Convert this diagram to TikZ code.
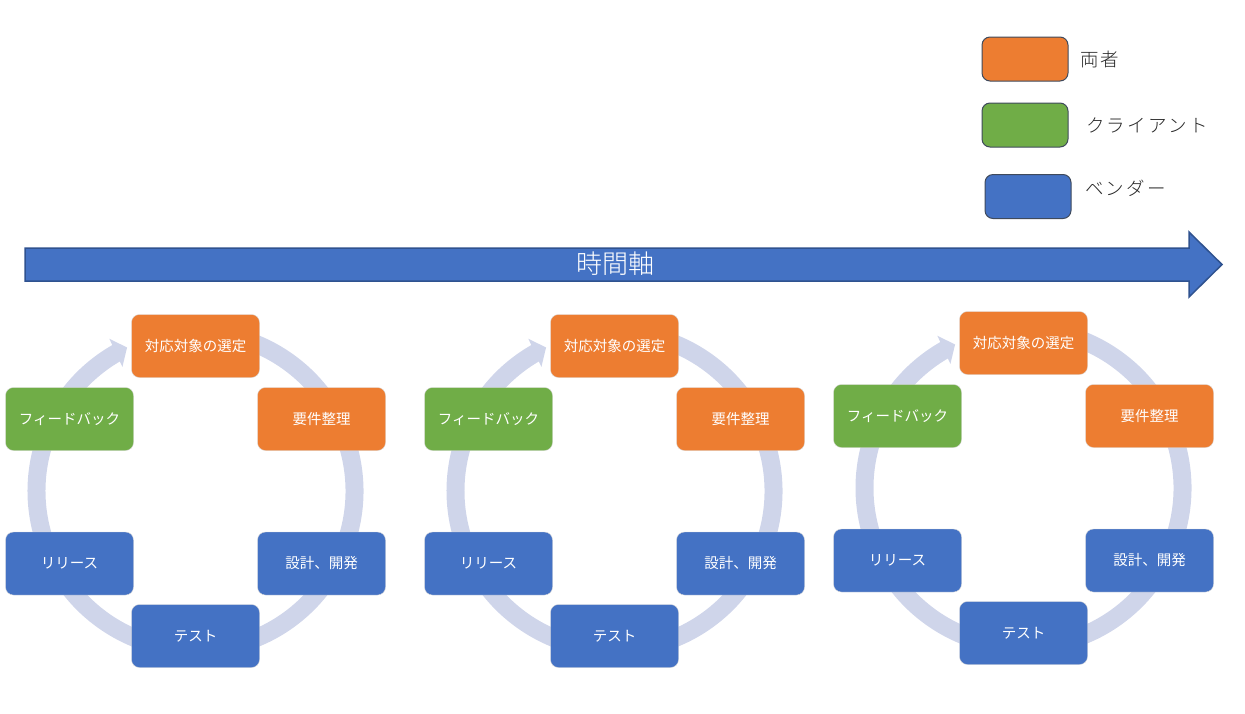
\documentclass[tikz,border=0pt]{standalone}
\usepackage{fontspec}
\setmainfont{Noto Sans CJK JP}
\newfontfamily\legfont{Noto Sans CJK JP Light}[LetterSpace=12]
\newfontfamily\axisfont{Noto Sans CJK JP Light}
\definecolor{orng}{HTML}{ED7D31}
\definecolor{grn}{HTML}{70AD47}
\definecolor{blu}{HTML}{4472C4}
\definecolor{ringc}{HTML}{CFD5EA}
\definecolor{arrowedge}{HTML}{2F528F}
\definecolor{legedge}{HTML}{3F4A5C}
\definecolor{legtext}{HTML}{262626}
\tikzset{
  stage/.style={rounded corners=8pt, minimum width=128pt, minimum height=63pt,
    inner sep=0pt, text=white, draw=white!85!black, line width=0.4pt,
    font=\fontsize{14.5pt}{17pt}\selectfont},
  legbox/.style={rounded corners=8pt, minimum width=86pt, minimum height=44pt,
    inner sep=0pt, draw=legedge, line width=1pt},
  legtxt/.style={anchor=west, text=legtext, inner sep=0pt,
    font=\legfont\fontsize{18.5pt}{22pt}\selectfont},
  ringline/.style={draw=ringc, line width=18pt},
}
\newcommand\drawcycle[3]{%
  \begin{scope}[shift={(#1,#2)}]
    \draw[ringline] (-100:159) arc[start angle=-100, end angle=241, radius=159];
    \fill[ringc] (239.5:144) -- (244.5:159) -- (240.5:175) -- cycle;
    \node[stage, fill=orng] (#3top) at (0,-145) {対応対象の選定};
    \node[stage, fill=orng] (#3req) at (126,-72) {要件整理};
    \node[stage, fill=blu]  (#3dev) at (126,72.5) {設計、開発};
    \node[stage, fill=blu]  (#3tst) at (0,145) {テスト};
    \node[stage, fill=blu]  (#3rel) at (-126,72.5) {リリース};
    \node[stage, fill=grn]  (#3fb)  at (-126,-72) {フィードバック};
  \end{scope}}
\begin{document}
\begin{tikzpicture}[x=1pt, y=-1pt]
  \useasboundingbox (0,0) rectangle (1245,713);
  % legend
  \node[legbox, fill=orng] (lg1) at (1025,59) {};
  \node[legbox, fill=grn]  (lg2) at (1025,125) {};
  \node[legbox, fill=blu]  (lg3) at (1028,196.5) {};
  \node[legtxt] (lt1) at (1080,59) {両者};
  \node[legtxt] (lt2) at (1086,125) {クライアント};
  \node[legtxt] (lt3) at (1085,188) {ベンダー};
  % time axis arrow
  \draw[fill=blu, draw=arrowedge, line width=1.5pt, line join=miter]
    (25,248) -- (1189,248) -- (1189,232) -- (1222,264.5) -- (1189,297)
    -- (1189,281) -- (25,281) -- cycle;
  \node[text=white, font=\axisfont\fontsize{26pt}{30pt}\selectfont] (axis) at (615,264) {時間軸};
  % cycles
  \drawcycle{195.5}{491}{a}
  \drawcycle{614.5}{491}{b}
  \drawcycle{1023.5}{488}{c}
\end{tikzpicture}
\end{document}
